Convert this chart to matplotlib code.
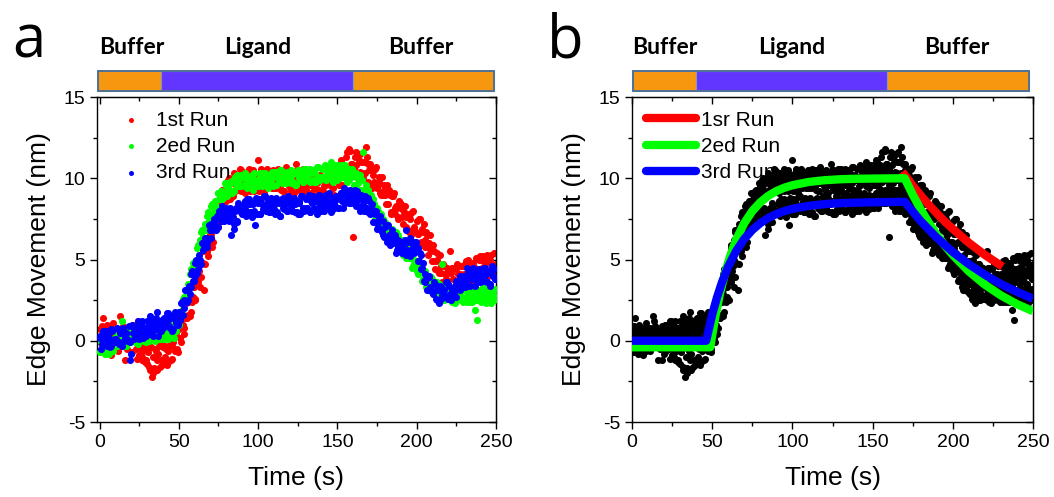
import numpy as np
import matplotlib.pyplot as plt
import matplotlib.transforms as mtransforms
from matplotlib.patches import Rectangle
from matplotlib.lines import Line2D
from matplotlib.ticker import MultipleLocator

plt.rcParams['font.family'] = ['Liberation Sans', 'DejaVu Sans']
plt.rcParams['axes.unicode_minus'] = False

# --- data (edge movement, nm) ---
# samples on whole seconds and on half seconds
time_s = np.arange(0, 251)
time_half = np.arange(0.5, 250, 1.0)

run1 = [0.7, 0.0, 1.4, -0.3, 0.4, 0.1, 0.8, -0.9, 0.5, 0.2,
        -0.4, 0.4, 0.0, 1.5, -0.3, 0.3, -1.2, 0.5, 0.1, 0.6,
        0.2, 1.0, 0.3, -0.5, 1.2, -0.9, -0.5, -1.2, -0.2, -1.2,
        -1.4, -0.3, -1.8, -2.2, -2.0, -0.5, -1.2, -0.8, -1.6, -0.2,
        -0.4, -1.0, -0.5, -1.3, -0.3, -1.2, -0.3, 0.3, -0.6, -0.5,
        0.7, 0.2, 1.4, 0.4, 1.4, 1.4, 2.4, 1.5, 2.7, 2.7,
        2.6, 3.7, 3.6, 4.6, 3.9, 4.8, 3.1, 5.6, 5.5, 6.3,
        6.3, 5.8, 7.3, 6.9, 8.1, 7.3, 8.1, 7.8, 9.2, 8.6,
        8.9, 9.9, 8.9, 9.8, 8.9, 10.1, 9.6, 9.9, 9.3, 10.5,
        10.4, 9.7, 10.1, 9.3, 10.2, 9.2, 10.0, 10.5, 9.5, 9.4,
        11.1, 9.6, 10.6, 9.3, 10.0, 9.7, 10.4, 8.2, 10.1, 9.8,
        9.4, 10.2, 9.8, 10.5, 9.5, 10.1, 9.2, 10.3, 9.9, 10.4,
        10.0, 9.2, 10.3, 9.6, 10.9, 9.4, 9.9, 9.3, 10.4, 9.5,
        9.3, 10.1, 9.0, 9.8, 8.8, 10.0, 9.4, 9.7, 9.1, 10.2,
        9.9, 9.2, 9.6, 8.8, 9.7, 8.7, 9.5, 10.0, 9.0, 8.9,
        10.3, 9.6, 11.1, 9.6, 10.7, 10.5, 11.6, 10.1, 11.7, 10.9,
        6.4, 11.3, 10.8, 11.5, 10.4, 11.0, 10.0, 11.0, 11.9, 10.9,
        10.5, 9.6, 10.6, 9.8, 10.6, 9.4, 9.8, 9.1, 10.1, 9.0,
        9.0, 9.6, 8.4, 9.0, 7.9, 8.9, 8.2, 8.3, 7.6, 8.6,
        8.4, 7.6, 7.9, 7.0, 7.8, 6.7, 7.5, 7.9, 6.9, 6.7,
        7.4, 6.6, 7.5, 6.1, 6.7, 6.2, 6.7, 5.3, 6.0, 5.5,
        4.9, 5.5, 4.9, 5.4, 4.2, 4.6, 3.6, 4.6, 4.1, 4.5,
        4.2, 5.5, 4.5, 3.8, 2.4, 3.6, 4.1, 3.5, 4.6, 3.7,
        4.1, 4.9, 3.8, 4.6, 3.6, 4.8, 4.2, 4.5, 3.9, 5.0,
        5.2, 4.5, 4.9, 4.1, 5.0, 4.0, 4.8, 5.3, 4.3, 4.2, 4.7]
run1_half = [-0.1, 0.9, -0.4, 0.5, 1.0, -0.2, 0.7, 0.1, 1.1, -0.3,
             0.7, -0.6, 0.2, -0.3, 0.9, 0.0, 0.6, -0.5, -0.1, 0.5,
             -0.7, 0.1, 0.3, -1.1, 0.0, 0.2, -1.0, -0.6, -1.3, -0.3,
             -0.7, -1.6, -0.4, -1.0, -1.7, -0.6, -1.8, -0.3, -1.2, -1.5,
             -1.4, -0.3, -1.5, -0.6, 0.0, -1.1, -0.1, -0.6, 0.5, -0.7,
             1.1, -0.1, 1.0, 0.8, 2.3, 1.6, 2.5, 1.8, 2.4, 3.3,
             2.5, 3.8, 4.3, 3.3, 4.8, 5.5, 4.7, 5.5, 5.2, 6.6,
             6.6, 6.1, 7.7, 7.4, 7.0, 8.3, 7.4, 9.3, 8.6, 8.6,
             8.8, 10.0, 8.7, 9.8, 10.3, 9.2, 10.1, 9.5, 10.6, 9.2,
             10.4, 9.1, 9.9, 9.4, 10.6, 9.7, 10.3, 9.2, 9.6, 10.2,
             9.2, 10.1, 10.4, 9.1, 10.3, 10.6, 9.5, 10.0, 9.4, 10.5,
             10.3, 9.4, 10.6, 10.0, 9.3, 10.4, 9.2, 10.7, 9.8, 9.5,
             9.4, 10.4, 9.1, 10.0, 10.5, 9.3, 10.2, 9.6, 10.6, 9.2,
             10.1, 8.8, 9.6, 9.1, 10.3, 9.4, 10.0, 8.9, 9.3, 9.9,
             8.6, 9.5, 9.8, 8.5, 9.7, 10.0, 8.9, 9.4, 8.8, 9.9,
             10.3, 9.6, 11.0, 10.6, 10.1, 11.3, 10.2, 11.8, 10.9, 10.6,
             10.6, 11.6, 10.2, 11.1, 11.5, 10.3, 11.0, 10.3, 11.3, 9.8,
             10.9, 9.4, 10.2, 9.6, 10.7, 9.6, 10.1, 9.0, 9.2, 9.6,
             8.4, 9.2, 9.3, 7.8, 8.9, 9.1, 7.8, 8.2, 7.5, 8.5,
             8.1, 7.2, 8.3, 7.6, 6.8, 7.8, 6.5, 8.0, 7.0, 6.7,
             6.6, 7.5, 6.0, 6.9, 7.2, 5.8, 6.5, 5.7, 6.5, 4.9,
             5.9, 4.4, 5.0, 4.3, 5.3, 4.2, 4.7, 3.6, 3.8, 4.4,
             3.3, 4.2, 4.5, 3.2, 4.4, 4.7, 3.6, 4.1, 3.5, 4.6,
             4.7, 3.8, 5.0, 4.4, 3.7, 4.8, 3.6, 5.1, 4.2, 3.9,
             4.2, 5.2, 3.9, 4.8, 5.3, 4.1, 5.0, 4.4, 5.4, 4.0]

run2 = [-0.7, -0.1, -0.4, 0.1, -0.6, -0.2, -0.8, 0.0, -0.3, 0.1,
        0.2, -0.3, 0.5, 0.0, 1.2, -0.2, 0.2, -0.3, 0.5, -0.1,
        0.2, 0.7, 0.0, 0.5, -0.2, 0.7, 0.2, 0.4, 0.0, 0.8,
        0.8, 0.3, 0.6, 0.1, 0.7, 0.0, 0.5, 0.9, 0.2, 0.1,
        0.8, 0.3, 1.0, 0.1, 0.7, 0.5, 1.0, 0.2, 0.9, 0.9,
        1.0, 1.8, 1.9, 2.7, 2.4, 3.1, 2.9, 4.1, 4.1, 4.8,
        4.9, 4.8, 5.9, 5.8, 6.7, 6.2, 6.9, 6.8, 7.7, 7.4,
        7.7, 8.4, 7.9, 8.6, 8.1, 9.1, 8.8, 9.1, 8.8, 9.7,
        9.7, 9.3, 9.7, 9.2, 9.9, 9.2, 9.8, 10.2, 9.5, 9.5,
        10.1, 9.6, 10.3, 9.4, 9.9, 9.7, 10.2, 9.3, 9.9, 9.7,
        9.5, 10.1, 9.8, 10.3, 9.6, 10.0, 9.4, 10.2, 9.9, 10.2,
        10.1, 9.6, 10.4, 9.9, 10.5, 9.7, 10.1, 9.7, 10.4, 9.8,
        10.0, 10.5, 9.8, 10.3, 9.6, 10.5, 10.0, 10.2, 9.8, 10.6,
        10.6, 10.1, 10.4, 9.8, 10.5, 9.8, 10.3, 10.7, 10.0, 9.9,
        10.6, 10.1, 10.8, 9.9, 10.4, 10.2, 11.0, 9.8, 10.4, 10.2,
        10.0, 10.6, 10.3, 10.8, 10.1, 10.4, 9.8, 10.6, 10.2, 10.6,
        10.2, 9.6, 10.3, 9.7, 10.2, 9.3, 11.6, 8.9, 9.6, 8.8,
        8.7, 9.0, 8.0, 8.4, 7.5, 8.2, 7.5, 7.5, 6.9, 7.5,
        7.3, 6.7, 6.9, 6.2, 6.8, 6.0, 6.4, 6.7, 5.9, 5.7,
        6.2, 5.6, 6.1, 5.1, 5.5, 5.1, 5.5, 4.5, 5.0, 4.6,
        4.3, 4.7, 4.3, 4.6, 3.8, 4.1, 3.3, 4.0, 3.6, 3.9,
        3.5, 2.9, 3.6, 3.0, 3.5, 2.7, 4.7, 2.5, 3.3, 2.6,
        2.7, 3.2, 2.5, 3.0, 2.3, 3.2, 2.7, 2.9, 2.5, 3.3,
        3.2, 2.7, 3.0, 2.4, 3.1, 2.4, 2.9, 1.9, 1.3, 2.5,
        3.1, 2.6, 3.3, 2.4, 2.9, 2.7, 3.2, 2.3, 2.9, 2.7, 2.6]
run2_half = [-0.7, -0.2, 0.0, -0.8, -0.1, 0.1, -0.5, -0.2, -0.6, 0.1,
             0.3, -0.2, 0.5, 0.2, -0.3, 0.4, -0.3, 0.6, 0.0, -0.1,
             0.1, 0.7, -0.1, 0.4, 0.7, 0.0, 0.5, 0.2, 0.8, -0.1,
             0.8, 0.0, 0.5, 0.2, 0.9, 0.3, 0.7, 0.1, 0.3, 0.6,
             0.1, 0.6, 0.8, 0.1, 0.8, 1.0, 0.4, 0.8, 0.6, 1.5,
             1.7, 1.5, 2.6, 2.6, 2.5, 3.5, 3.2, 4.4, 4.2, 4.4,
             4.8, 5.7, 5.3, 6.2, 6.8, 6.4, 7.2, 7.1, 7.9, 7.4,
             8.3, 7.7, 8.4, 8.3, 9.1, 8.7, 9.2, 8.7, 9.0, 9.5,
             8.9, 9.6, 9.8, 9.1, 9.8, 10.1, 9.5, 9.8, 9.5, 10.2,
             10.0, 9.5, 10.2, 9.9, 9.5, 10.1, 9.4, 10.3, 9.7, 9.6,
             9.7, 10.3, 9.5, 10.0, 10.3, 9.6, 10.1, 9.8, 10.4, 9.5,
             10.4, 9.6, 10.1, 9.8, 10.5, 9.9, 10.3, 9.7, 9.9, 10.2,
             9.7, 10.2, 10.4, 9.6, 10.3, 10.5, 9.9, 10.2, 9.8, 10.5,
             10.4, 9.9, 10.6, 10.3, 9.9, 10.5, 9.8, 10.7, 10.1, 10.0,
             10.1, 10.7, 9.9, 10.4, 10.7, 10.0, 10.5, 10.2, 10.8, 9.9,
             10.8, 10.0, 10.5, 10.2, 10.8, 10.2, 10.6, 9.9, 10.1, 10.4,
             9.6, 10.1, 10.1, 9.3, 9.9, 9.9, 9.1, 9.3, 8.8, 9.3,
             8.9, 8.2, 8.7, 8.2, 7.5, 8.0, 7.1, 7.8, 7.0, 6.7,
             6.6, 7.1, 6.2, 6.7, 6.9, 6.1, 6.5, 6.0, 6.5, 5.6,
             6.2, 5.3, 5.6, 5.2, 5.8, 5.1, 5.3, 4.6, 4.7, 4.9,
             4.1, 4.6, 4.6, 3.7, 4.3, 4.3, 3.5, 3.7, 3.3, 3.8,
             3.6, 3.0, 3.6, 3.1, 2.7, 3.2, 2.5, 3.4, 2.8, 2.6,
             2.6, 3.2, 2.4, 2.9, 3.2, 2.5, 3.0, 2.7, 3.3, 2.4,
             3.2, 2.4, 2.9, 2.6, 3.3, 2.7, 3.1, 2.5, 2.7, 3.0,
             2.4, 2.9, 3.1, 2.3, 3.0, 3.2, 2.6, 2.9, 2.5, 3.2]

run3 = [0.2, -0.5, 0.4, -0.1, 0.6, -0.2, 0.2, -0.3, 0.6, -0.1,
        0.1, 0.8, -0.1, 0.5, -0.3, 0.7, 0.2, 0.5, 0.0, -1.2,
        -0.8, 0.5, 0.8, 0.2, 0.9, 0.1, 0.8, 1.2, 0.4, 0.3,
        1.2, 0.7, 1.5, 0.4, 1.0, 0.7, 1.8, 0.3, 1.1, 0.8,
        0.8, 1.4, 1.1, 1.7, 0.9, 1.4, 0.6, 1.5, 1.2, 1.6,
        1.8, 1.3, 2.4, 2.0, 3.1, 2.4, 3.1, 2.9, 4.1, 3.7,
        4.0, 5.0, 4.4, 5.3, 4.7, 6.0, 5.7, 6.3, 6.0, 7.1,
        7.2, 6.8, 7.3, 6.9, 7.7, 7.0, 7.8, 8.3, 7.5, 7.5,
        8.1, 7.6, 8.2, 6.5, 7.6, 6.9, 8.2, 7.3, 8.2, 8.0,
        7.8, 8.4, 8.1, 8.7, 7.9, 8.4, 7.6, 8.5, 7.1, 8.6,
        8.5, 7.8, 8.7, 8.1, 8.9, 8.0, 8.4, 7.9, 8.8, 8.1,
        8.1, 8.8, 7.9, 8.5, 7.7, 8.7, 8.2, 8.5, 8.0, 8.9,
        8.8, 8.2, 8.5, 7.9, 8.6, 7.8, 8.5, 8.9, 8.1, 8.0,
        8.7, 8.2, 9.0, 7.9, 8.5, 8.2, 8.8, 7.8, 8.6, 8.3,
        8.1, 8.7, 8.4, 9.0, 8.2, 8.7, 7.9, 8.8, 8.5, 8.9,
        8.8, 8.2, 9.1, 8.6, 9.4, 8.5, 9.0, 8.5, 9.3, 8.6,
        8.6, 9.3, 8.3, 8.9, 8.0, 9.0, 8.4, 8.6, 8.0, 8.8,
        8.6, 7.9, 8.1, 7.3, 7.9, 6.9, 7.5, 7.7, 6.7, 6.5,
        7.0, 6.4, 7.1, 5.9, 6.4, 6.0, 6.5, 5.4, 6.2, 5.8,
        5.5, 6.1, 5.8, 6.8, 5.6, 6.1, 5.2, 6.1, 5.8, 6.1,
        5.8, 4.9, 5.4, 4.4, 4.8, 3.6, 3.8, 3.1, 3.9, 3.1,
        3.0, 3.6, 2.6, 3.2, 2.3, 3.3, 2.8, 3.1, 2.7, 3.6,
        3.5, 2.9, 3.2, 2.7, 3.4, 2.7, 3.5, 4.0, 3.3, 3.3,
        4.0, 3.6, 4.5, 3.4, 4.1, 3.8, 4.4, 3.4, 4.2, 3.9,
        3.6, 4.2, 3.9, 4.5, 3.7, 4.2, 3.4, 4.3, 4.0, 4.4, 3.8]
run3_half = [0.3, -0.2, 0.6, 0.2, -0.3, 0.4, -0.4, 0.7, 0.0, -0.1,
             0.1, 0.7, -0.2, 0.5, 0.8, 0.0, 0.5, 0.1, 0.9, -0.1,
             1.0, 0.1, 0.7, 0.4, 1.2, 0.5, 0.9, 0.2, 0.4, 0.8,
             0.4, 1.1, 1.2, 0.3, 1.1, 1.4, 0.7, 1.0, 0.6, 1.3,
             1.4, 0.9, 1.7, 1.3, 0.8, 1.5, 0.7, 1.8, 1.1, 1.0,
             1.5, 2.3, 1.6, 2.5, 3.1, 2.5, 3.4, 3.3, 4.3, 3.7,
             4.8, 4.2, 5.0, 5.0, 6.0, 5.6, 6.3, 5.8, 6.2, 6.8,
             6.3, 7.2, 7.5, 6.8, 7.7, 8.0, 7.4, 7.8, 7.4, 8.2,
             8.0, 7.4, 8.0, 7.6, 7.2, 8.0, 7.4, 8.5, 8.0, 7.9,
             8.0, 8.6, 7.7, 8.4, 8.7, 7.9, 8.4, 8.0, 8.8, 7.8,
             8.7, 7.8, 8.4, 8.1, 8.9, 8.2, 8.6, 7.9, 8.1, 8.5,
             7.8, 8.5, 8.6, 7.7, 8.5, 8.8, 8.1, 8.4, 8.0, 8.7,
             8.5, 8.0, 8.8, 8.4, 7.9, 8.6, 7.8, 8.9, 8.2, 8.1,
             8.2, 8.8, 7.9, 8.6, 8.9, 8.1, 8.6, 8.2, 9.0, 8.0,
             8.9, 8.0, 8.6, 8.3, 9.1, 8.4, 8.8, 8.1, 8.3, 8.7,
             8.2, 8.9, 9.1, 8.2, 9.0, 9.3, 8.7, 8.9, 8.5, 9.2,
             9.0, 8.4, 9.2, 8.7, 8.2, 8.9, 8.0, 8.9, 8.2, 7.9,
             7.8, 8.4, 7.3, 7.8, 8.0, 7.0, 7.4, 6.8, 7.4, 6.4,
             7.1, 6.1, 6.5, 6.1, 6.8, 6.1, 6.4, 5.6, 5.8, 6.1,
             5.4, 6.1, 6.2, 5.3, 6.1, 6.3, 5.6, 5.9, 5.4, 6.1,
             5.7, 4.9, 5.3, 4.5, 3.7, 4.1, 3.1, 4.0, 3.3, 3.0,
             2.9, 3.5, 2.5, 3.1, 3.4, 2.6, 3.1, 2.8, 3.6, 2.6,
             3.4, 2.5, 3.1, 2.9, 3.7, 3.2, 3.7, 3.1, 3.4, 3.9,
             3.3, 4.0, 4.2, 3.4, 4.2, 4.5, 3.8, 4.1, 3.7, 4.4,
             4.2, 3.7, 4.5, 4.1, 3.6, 4.3, 3.5, 4.6, 3.9, 3.8]

# fitted curves (panel b)
fit1_t = [168.5, 175, 180, 185, 190, 195, 200, 210, 220, 231]
fit1_v = [10.4, 9.55, 8.94, 8.37, 7.84, 7.34, 6.88, 6.03, 5.28, 4.56]
fit2_t = [0, 48.75, 52, 55, 58, 61, 65, 70, 75, 80, 85, 90, 95, 100, 110, 120,
          130, 140, 150, 160, 170, 175, 180, 185, 190, 195, 200, 210, 220, 230, 240, 250]
fit2_v = [-0.4, -0.4, 1.5, 2.96, 4.16, 5.16, 6.23, 7.24, 7.98, 8.52, 8.92, 9.21, 9.42, 9.57, 9.77, 9.88,
          9.94, 9.97, 9.98, 9.99, 10.0, 8.99, 8.08, 7.27, 6.53, 5.87, 5.28, 4.27, 3.45, 2.79, 2.25, 1.82]
fit3_t = [0, 46.25, 50, 53, 56, 60, 65, 70, 75, 80, 85, 90, 95, 100, 110, 120,
          130, 140, 150, 160, 170, 180, 190, 200, 210, 220, 230, 240, 250]
fit3_v = [0, 0, 1.61, 2.67, 3.57, 4.57, 5.53, 6.27, 6.82, 7.24, 7.56, 7.80, 7.98, 8.12, 8.30, 8.41,
          8.47, 8.50, 8.52, 8.54, 8.55, 7.36, 6.34, 5.46, 4.71, 4.06, 3.49, 3.01, 2.59]

# buffer / ligand phases (s)
phase_edges_a = [-1.0, 39, 160, 248.7]
phase_edges_b = [0.6, 40, 159, 247.5]
phase_names = ['Buffer', 'Ligand', 'Buffer']
label_x = [20.5, 99.5, 202.5]

ORANGE = '#F7960F'
PURPLE = '#6236FF'
RED, GREEN, BLUE = '#FF0000', '#00FF00', '#0000FF'
DOT = 26

fig = plt.figure(figsize=(10.54, 4.97), dpi=100)
ax_a = fig.add_axes([0.0920, 0.1509, 0.3786, 0.6539])
ax_b = fig.add_axes([0.5996, 0.1509, 0.3805, 0.6539])


def style_axis(ax, xmin):
    ax.set_xlim(xmin, 250)
    ax.set_ylim(-5, 15)
    ax.xaxis.set_major_locator(MultipleLocator(50))
    ax.xaxis.set_minor_locator(MultipleLocator(25))
    ax.yaxis.set_major_locator(MultipleLocator(5))
    ax.yaxis.set_minor_locator(MultipleLocator(2.5))
    ax.tick_params(which='both', direction='out', top=False, right=False, labelsize=14, width=1.0)
    ax.tick_params(which='major', length=5)
    ax.tick_params(which='minor', length=3)
    for s in ax.spines.values():
        s.set_linewidth(1.0)
    # mirrored inward ticks on top / right
    sec_x = ax.secondary_xaxis('top')
    sec_x.xaxis.set_major_locator(MultipleLocator(50))
    sec_x.xaxis.set_minor_locator(MultipleLocator(25))
    sec_x.tick_params(which='both', direction='in', labeltop=False, width=1.0)
    sec_x.tick_params(which='major', length=5)
    sec_x.tick_params(which='minor', length=3)
    sec_y = ax.secondary_yaxis('right')
    sec_y.yaxis.set_major_locator(MultipleLocator(5))
    sec_y.yaxis.set_minor_locator(MultipleLocator(2.5))
    sec_y.tick_params(which='both', direction='in', labelright=False, width=1.0)
    sec_y.tick_params(which='major', length=5)
    sec_y.tick_params(which='minor', length=3)
    ax.set_xlabel('Time (s)', fontsize=19)
    ax.set_ylabel('Edge Movement (nm)', fontsize=19)
    ax.xaxis.set_label_coords(0.5, -0.135)
    ax.yaxis.set_label_coords(-0.115, 0.5)


def phase_bar(ax, edges):
    trans = mtransforms.blended_transform_factory(ax.transData, ax.transAxes)
    cols = [ORANGE, PURPLE, ORANGE]
    for i in range(3):
        ax.add_patch(Rectangle((edges[i], 1.0185), edges[i + 1] - edges[i], 0.0615,
                               transform=trans, facecolor=cols[i], edgecolor='#8C9BAA',
                               linewidth=0.8, clip_on=False))
    ax.add_patch(Rectangle((edges[0], 1.0185), edges[-1] - edges[0], 0.0615,
                           transform=trans, facecolor='none', edgecolor='#4F7196',
                           linewidth=1.4, clip_on=False))
    for name, x in zip(phase_names, label_x):
        ax.text(x, 1.151, name, transform=trans, ha='center', va='center',
                fontsize=16.5, fontweight='bold', family=['Lato', 'DejaVu Sans'])


t_all = np.concatenate([time_s, time_half])
runs = [np.concatenate([run1, run1_half]),
        np.concatenate([run2, run2_half]),
        np.concatenate([run3, run3_half])]

# panel a
style_axis(ax_a, -1.6)
for vals, col, lab, z in zip(runs, (RED, GREEN, BLUE), ('1st Run', '2ed Run', '3rd Run'), (2, 3, 4)):
    ax_a.scatter(t_all, vals, s=DOT, color=col, linewidths=0, label=lab, zorder=z)
ax_a.legend(loc='upper left', bbox_to_anchor=(0.02, 1.0), frameon=False, fontsize=15,
            handlelength=1.2, handletextpad=0.6, labelspacing=0.35, markerscale=0.7,
            borderaxespad=0.25)
phase_bar(ax_a, phase_edges_a)

# panel b
style_axis(ax_b, 0)
for vals in runs:
    ax_b.scatter(t_all, vals, s=DOT, color='black', linewidths=0, zorder=2)
ax_b.plot(fit1_t, fit1_v, color=RED, lw=6, solid_capstyle='butt', zorder=3)
ax_b.plot(fit2_t, fit2_v, color=GREEN, lw=6, solid_capstyle='butt', zorder=4)
ax_b.plot(fit3_t, fit3_v, color=BLUE, lw=6, solid_capstyle='butt', zorder=5)
handles = [Line2D([0], [0], color=c, lw=6, solid_capstyle='round') for c in (RED, GREEN, BLUE)]
ax_b.legend(handles, ['1sr Run', '2ed Run', '3rd Run'], loc='upper left',
            bbox_to_anchor=(0.0, 1.0), frameon=False, fontsize=15, handlelength=2.4,
            handletextpad=0.25, labelspacing=0.35, borderaxespad=0.1, borderpad=0.55)
phase_bar(ax_b, phase_edges_b)

fig.text(0.0114, 0.885, 'a', fontsize=43, family=['Open Sans', 'DejaVu Sans'], va='baseline')
fig.text(0.519, 0.885, 'b', fontsize=43, family=['Open Sans', 'DejaVu Sans'], va='baseline')

fig.savefig('out.png', dpi=100, facecolor='white')
